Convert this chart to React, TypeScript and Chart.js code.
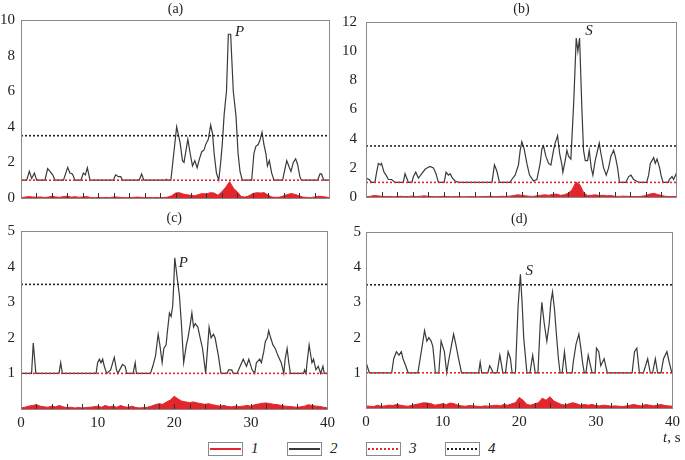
import React, { useEffect, useRef } from 'react';
import { Chart, registerables } from 'chart.js';
Chart.register(...registerables);

const FONT = "'Liberation Serif', 'Times New Roman', serif";
const RED = '#e3262c';
const DARK = '#3a3a3a';

// shared time grid (s) for series 1
const T1 = [0, 0.5, 1, 1.5, 2, 2.5, 3, 3.5, 4, 4.5, 5, 5.5, 6, 6.5, 7, 7.5, 8, 8.5, 9, 9.5, 10, 10.5, 11, 11.5, 12, 12.5, 13, 13.5, 14, 14.5, 15, 15.5, 16, 16.5, 17, 17.5, 18, 18.5, 19, 19.5, 20, 20.5, 21, 21.5, 22, 22.5, 23, 23.5, 24, 24.5, 25, 25.5, 26, 26.5, 27, 27.5, 28, 28.5, 29, 29.5, 30, 30.5, 31, 31.5, 32, 32.5, 33, 33.5, 34, 34.5, 35, 35.5, 36, 36.5, 37, 37.5, 38, 38.5, 39, 39.5, 40];

// Series 1 (red, filled) per panel
const A_S1 = [0.02, 0.05, 0.08, 0.06, 0.04, 0.06, 0.03, 0.05, 0.1, 0.06, 0.04, 0.08, 0.1, 0.05, 0.07, 0.04, 0.06, 0.08, 0.03, 0.02, 0.03, 0.02, 0.03, 0.02, 0.06, 0.05, 0.03, 0.02, 0.02, 0.03, 0.05, 0.04, 0.02, 0.03, 0.02, 0.03, 0.02, 0.03, 0.05, 0.12, 0.28, 0.3, 0.22, 0.18, 0.15, 0.12, 0.2, 0.25, 0.22, 0.3, 0.28, 0.15, 0.35, 0.6, 0.92, 0.55, 0.35, 0.08, 0.05, 0.12, 0.25, 0.3, 0.28, 0.3, 0.15, 0.05, 0.04, 0.05, 0.12, 0.2, 0.25, 0.2, 0.12, 0.05, 0.03, 0.02, 0.06, 0.1, 0.08, 0.05, 0.02];
const B_S1 = [0.02, 0.04, 0.1, 0.08, 0.05, 0.03, 0.04, 0.02, 0.03, 0.05, 0.03, 0.04, 0.06, 0.03, 0.05, 0.08, 0.04, 0.03, 0.02, 0.03, 0.05, 0.03, 0.02, 0.03, 0.02, 0.02, 0.02, 0.03, 0.02, 0.02, 0.03, 0.04, 0.05, 0.03, 0.03, 0.05, 0.04, 0.06, 0.1, 0.15, 0.12, 0.08, 0.05, 0.04, 0.08, 0.12, 0.15, 0.12, 0.18, 0.2, 0.12, 0.15, 0.25, 0.5, 1.02, 0.85, 0.3, 0.1, 0.12, 0.15, 0.1, 0.12, 0.08, 0.1, 0.05, 0.04, 0.06, 0.05, 0.04, 0.03, 0.03, 0.05, 0.1, 0.2, 0.25, 0.18, 0.1, 0.05, 0.03, 0.04, 0.02];
const C_S1 = [0.03, 0.05, 0.08, 0.1, 0.12, 0.08, 0.06, 0.05, 0.08, 0.06, 0.1, 0.06, 0.04, 0.05, 0.03, 0.04, 0.03, 0.04, 0.05, 0.06, 0.08, 0.05, 0.1, 0.06, 0.08, 0.05, 0.1, 0.06, 0.05, 0.08, 0.04, 0.03, 0.04, 0.05, 0.08, 0.12, 0.15, 0.13, 0.2, 0.25, 0.36, 0.28, 0.22, 0.2, 0.18, 0.2, 0.17, 0.15, 0.13, 0.15, 0.12, 0.1, 0.08, 0.1, 0.07, 0.06, 0.08, 0.07, 0.08, 0.1, 0.08, 0.12, 0.14, 0.16, 0.17, 0.15, 0.13, 0.12, 0.1, 0.08, 0.07, 0.06, 0.05, 0.06, 0.08, 0.12, 0.1, 0.08, 0.07, 0.05, 0.03];
const D_S1 = [0.06, 0.05, 0.04, 0.08, 0.05, 0.06, 0.08, 0.07, 0.1, 0.08, 0.06, 0.05, 0.08, 0.1, 0.12, 0.15, 0.14, 0.12, 0.08, 0.1, 0.12, 0.1, 0.14, 0.12, 0.08, 0.06, 0.05, 0.07, 0.06, 0.05, 0.04, 0.06, 0.05, 0.07, 0.08, 0.06, 0.1, 0.08, 0.12, 0.15, 0.3, 0.22, 0.1, 0.08, 0.12, 0.15, 0.28, 0.22, 0.32, 0.2, 0.15, 0.1, 0.08, 0.12, 0.15, 0.12, 0.08, 0.1, 0.08, 0.1, 0.07, 0.06, 0.08, 0.07, 0.05, 0.06, 0.05, 0.04, 0.06, 0.08, 0.1, 0.07, 0.06, 0.1, 0.08, 0.06, 0.08, 0.1, 0.07, 0.06, 0.05];

// Series 2 (black) per panel: time and value
const A_T2 = [0, 0.73, 1.08, 1.38, 1.73, 2.03, 3.1, 3.45, 3.75, 4.1, 4.4, 5.5, 6.04, 6.34, 6.65, 7.0, 7.77, 8.07, 8.33, 8.59, 8.93, 11.95, 12.25, 12.6, 12.9, 13.16, 15.3, 15.62, 15.9, 18.7, 18.85, 19.0, 19.4, 20.15, 20.6, 20.9, 21.1, 21.6, 21.9, 22.2, 22.5, 22.8, 23.1, 23.4, 23.7, 23.9, 24.25, 24.55, 24.8, 25.0, 25.3, 25.6, 25.85, 26.05, 26.3, 26.6, 26.84, 27.14, 27.48, 27.83, 28.1, 28.35, 28.65, 29.86, 30.15, 30.4, 30.7, 30.9, 31.2, 31.45, 31.7, 31.9, 32.15, 32.45, 32.75, 33.87, 34.1, 34.4, 34.75, 34.95, 35.25, 35.55, 35.8, 36.1, 36.3, 38.4, 38.7, 38.9, 39.2, 40];
const A_V2 = [1, 1, 1.5, 1.1, 1.4, 1, 1, 1.65, 1.5, 1.3, 1, 1, 1.72, 1.4, 1.35, 1, 1, 1.4, 1.3, 1.7, 1, 1, 1.3, 1.2, 1.2, 1, 1, 1.35, 1, 1, 1.05, 1, 1, 4.0, 3.1, 2.1, 2.0, 3.3, 2.5, 1.8, 2.1, 1.7, 2.2, 2.6, 2.7, 3.0, 3.3, 4.1, 3.6, 2.5, 1.4, 1.0, 2.0, 3.0, 4.7, 6.0, 9.2, 9.2, 6.0, 4.6, 2.5, 1.5, 1.0, 1.0, 2.5, 2.9, 3.0, 3.2, 3.7, 3.0, 2.5, 1.8, 2.1, 1.4, 1.0, 1.0, 1.5, 2.1, 1.7, 1.5, 2.0, 2.2, 1.9, 1.2, 1.0, 1.0, 1.35, 1.35, 1.0, 1.0];

const B_T2 = [0, 0.4, 0.73, 1.15, 1.3, 1.59, 1.89, 2.0, 2.32, 2.58, 2.88, 3.3, 3.73, 4.8, 5.02, 5.45, 5.9, 6.1, 6.4, 6.74, 7.17, 7.6, 7.9, 8.24, 8.67, 9.0, 9.31, 10.05, 10.3, 10.6, 10.82, 11.12, 11.46, 11.9, 16.2, 16.52, 16.82, 17.17, 18.5, 18.75, 19.18, 19.61, 19.83, 20.04, 20.34, 20.69, 21.03, 21.55, 21.98, 22.4, 22.62, 22.83, 23.13, 23.48, 23.78, 24.12, 24.33, 24.64, 24.9, 25.2, 25.32, 25.62, 25.84, 26.05, 26.35, 26.7, 27.04, 27.25, 27.47, 27.77, 27.98, 28.2, 28.5, 28.71, 28.97, 29.18, 29.48, 29.7, 30.0, 30.21, 30.56, 30.9, 31.2, 31.5, 31.85, 32.06, 32.36, 32.6, 33.4, 33.78, 34.08, 34.42, 35.1, 36.1, 36.35, 36.57, 37.0, 37.2, 37.43, 37.77, 37.94, 38.2, 38.9, 39.0, 39.36, 39.57, 39.9, 40];
const B_V2 = [1.3, 1.2, 1.0, 1.0, 1.5, 2.3, 2.2, 2.3, 1.7, 1.5, 1.2, 1.2, 1.0, 1.0, 1.6, 1.0, 1.0, 1.4, 1.7, 1.3, 1.6, 1.9, 2.0, 2.1, 2.0, 1.6, 1.0, 1.0, 1.7, 1.5, 1.6, 1.3, 1.1, 1.0, 1.0, 2.2, 1.8, 1.0, 1.0, 1.2, 1.5, 2.2, 3.2, 3.8, 3.3, 2.3, 1.5, 1.1, 1.2, 2.3, 3.3, 3.5, 2.8, 2.3, 2.2, 3.2, 3.7, 4.2, 3.0, 2.2, 1.7, 2.5, 3.2, 2.8, 2.6, 6.3, 10.9, 10.0, 10.9, 6.0, 3.2, 2.5, 2.5, 3.2, 2.0, 1.5, 2.5, 3.0, 3.7, 3.0, 2.0, 1.5, 2.0, 2.8, 3.2, 2.8, 2.0, 1.0, 1.0, 1.4, 1.5, 1.2, 1.0, 1.0, 1.5, 2.3, 2.7, 2.3, 2.6, 2.0, 1.5, 1.0, 1.0, 1.2, 1.4, 1.2, 1.6, 1.6];

const C_T2 = [0, 1.38, 1.6, 1.94, 4.96, 5.18, 5.4, 9.8, 10.0, 10.23, 10.44, 10.66, 10.87, 11.18, 11.7, 12.17, 12.47, 12.64, 13.25, 13.59, 13.81, 14.63, 14.9, 15.06, 16.9, 17.2, 17.56, 17.9, 18.12, 18.42, 18.64, 18.94, 19.07, 19.37, 19.59, 19.8, 19.93, 20.07, 20.37, 20.67, 20.93, 21.23, 21.58, 21.79, 22.1, 22.3, 22.52, 22.74, 23.08, 23.38, 23.69, 24.1, 24.55, 24.81, 25.11, 25.33, 25.76, 26.1, 26.9, 27.1, 27.5, 27.7, 28.2, 28.6, 29.0, 29.43, 29.73, 30.16, 30.5, 30.72, 31.15, 31.37, 31.67, 31.89, 32.15, 32.32, 32.58, 32.88, 33.18, 33.53, 33.96, 34.3, 34.47, 34.73, 34.95, 35.16, 36.9, 37.0, 37.2, 37.33, 37.6, 37.97, 38.18, 38.49, 38.79, 39.1, 39.4, 39.57, 40];
const C_V2 = [1, 1, 1.85, 1, 1, 1.3, 1, 1, 1.3, 1.4, 1.3, 1.4, 1.2, 1.0, 1.1, 1.45, 1.1, 1.0, 1.25, 1.2, 1.0, 1.0, 1.3, 1.0, 1.0, 1.2, 1.5, 2.1, 1.8, 1.3, 1.7, 1.8, 2.1, 2.7, 2.6, 2.9, 3.5, 4.25, 3.7, 3.2, 2.4, 1.3, 1.8, 2.0, 2.4, 2.7, 2.3, 2.4, 2.3, 2.0, 1.7, 1.0, 2.3, 2.0, 2.1, 2.0, 1.5, 1.0, 1.0, 1.1, 1.1, 1.0, 1.0, 1.2, 1.4, 1.2, 1.4, 1.1, 1.0, 1.3, 1.4, 1.3, 1.6, 1.9, 2.0, 2.2, 2.0, 1.8, 1.7, 1.5, 1.3, 1.0, 1.4, 1.7, 1.3, 1.0, 1.0, 1.1, 1.0, 1.3, 1.8, 1.3, 1.4, 1.1, 1.2, 1.0, 1.2, 1.0, 1.0];

const D_T2 = [0, 0.43, 3.35, 3.62, 3.97, 4.31, 4.61, 4.83, 5.18, 5.5, 6.77, 6.99, 7.29, 7.64, 7.94, 8.2, 8.5, 8.72, 9.06, 9.5, 9.8, 10.23, 10.53, 10.75, 11.09, 11.43, 11.73, 12.08, 12.47, 14.7, 14.9, 15.1, 15.9, 16.14, 16.4, 16.57, 17.1, 17.47, 17.86, 18.2, 18.55, 18.85, 19.07, 19.5, 19.85, 20.15, 20.37, 20.58, 21.0, 21.4, 21.75, 22.09, 22.44, 22.74, 22.95, 23.26, 23.6, 23.91, 24.12, 24.34, 24.6, 24.81, 25.11, 25.33, 25.6, 25.9, 26.2, 26.9, 27.05, 27.4, 27.78, 28.04, 28.26, 28.48, 28.7, 29.0, 29.3, 29.51, 29.9, 30.08, 30.38, 30.64, 31.07, 31.5, 34.73, 35.04, 35.34, 35.68, 36.2, 36.76, 37.1, 37.4, 37.76, 38.06, 38.5, 38.83, 39.27, 39.57, 39.92, 40];
const D_V2 = [1.3, 1.0, 1.0, 1.4, 1.6, 1.5, 1.6, 1.4, 1.2, 1.0, 1.0, 1.3, 1.7, 2.2, 1.9, 2.0, 1.9, 1.75, 1.0, 1.0, 1.9, 1.6, 1.0, 1.3, 1.7, 2.1, 1.8, 1.4, 1.0, 1.0, 1.3, 1.0, 1.0, 1.2, 1.1, 1.0, 1.0, 1.5, 1.0, 1.0, 1.6, 1.4, 1.0, 1.0, 2.9, 3.8, 3.0, 2.0, 1.0, 1.0, 1.5, 1.0, 1.0, 2.4, 3.0, 2.4, 1.9, 2.4, 3.0, 3.3, 2.8, 2.2, 1.4, 1.0, 1.0, 1.6, 1.0, 1.0, 1.3, 1.8, 2.1, 1.7, 1.3, 1.0, 1.0, 1.5, 1.2, 1.0, 1.0, 1.7, 1.6, 1.2, 1.4, 1.0, 1.0, 1.6, 1.7, 1.0, 1.0, 1.4, 1.0, 1.0, 1.4, 1.0, 1.0, 1.4, 1.6, 1.3, 1.0, 1.0];

// Series 3 and 4: constant levels
const LEVEL3 = 1;
const LEVEL4 = 3.5;
const T_RANGE = [0, 40];
const MINOR_TICKS = [2, 4, 6, 8, 10, 12, 14, 16, 18, 20, 22, 24, 26, 28, 30, 32, 34, 36, 38];
const X_TICKS = [0, 10, 20, 30, 40];

const PANEL_TITLES = ['(a)', '(b)', '(c)', '(d)'];
const PEAK_LABELS = ['P', 'S', 'P', 'S'];
const PEAK_T = [27.7, 28.2, 20.6, 20.8];
const PEAK_V = [9.3, 11.35, 4.1, 3.9];
const Y_MAX = [10, 12, 5, 5];
const Y_STEP = [2, 2, 1, 1];

const LEGEND_LABELS = ['1', '2', '3', '4'];

type Layout = { left: number; top: number; width: number; height: number; yW: number; yPad: number; padTop: number; padRight: number; xH: number; padBottom: number; titleOff: number };

const LAYOUTS: Layout[] = [
  { left: 0, top: 0, width: 340, height: 215, yW: 21, yPad: 6, padTop: 20, padRight: 10, xH: 0, padBottom: 17, titleOff: 11 },
  { left: 340, top: 0, width: 345, height: 215, yW: 26, yPad: 9, padTop: 22, padRight: 8, xH: 0, padBottom: 17, titleOff: 13 },
  { left: 0, top: 205, width: 340, height: 230, yW: 21, yPad: 6, padTop: 26, padRight: 10, xH: 26, padBottom: 0, titleOff: 13 },
  { left: 340, top: 205, width: 345, height: 230, yW: 26, yPad: 5, padTop: 27, padRight: 10, xH: 27, padBottom: 0, titleOff: 13 },
];

const decoPlugin = {
  id: 'deco',
  afterDatasetsDraw(chart: any, _args: any, opts: any) {
    const { ctx, chartArea: a, scales } = chart;
    const xs = scales.x, ys = scales.y;
    ctx.save();
    ctx.strokeStyle = '#333';
    ctx.lineWidth = 1;
    for (const t of MINOR_TICKS) {
      const px = Math.round(xs.getPixelForValue(t)) + 0.5;
      ctx.beginPath();
      ctx.moveTo(px, a.bottom);
      ctx.lineTo(px, a.bottom - 5);
      ctx.stroke();
    }
    ctx.strokeStyle = '#8a8a8a';
    ctx.strokeRect(Math.round(a.left) + 0.5, Math.round(a.top) + 0.5, Math.round(a.right - a.left) - 1, Math.round(a.bottom - a.top));
    ctx.fillStyle = '#222';
    ctx.font = `14px ${FONT}`;
    ctx.textAlign = 'center';
    ctx.textBaseline = 'middle';
    ctx.fillText(opts.title, (a.left + a.right) / 2, a.top - opts.titleOff);
    ctx.font = `italic 15px ${FONT}`;
    ctx.textAlign = 'left';
    ctx.fillText(opts.mark, xs.getPixelForValue(opts.markT), ys.getPixelForValue(opts.markV));
    ctx.restore();
  },
};

function Panel({ idx, s1, t2, v2 }: { idx: number; s1: number[]; t2: number[]; v2: number[] }) {
  const ref = useRef<HTMLCanvasElement>(null);
  const L = LAYOUTS[idx];
  const showX = idx >= 2;
  useEffect(() => {
    if (!ref.current) return;
    const chart = new Chart(ref.current, {
      type: 'line',
      data: {
        datasets: [
          { label: '4', data: T_RANGE.map((t) => ({ x: t, y: LEVEL4 })), borderColor: '#222', borderWidth: 1.6, borderDash: [2, 2], pointRadius: 0, fill: false },
          { label: '3', data: T_RANGE.map((t) => ({ x: t, y: LEVEL3 })), borderColor: RED, borderWidth: 1.6, borderDash: [2, 2], pointRadius: 0, fill: false },
          { label: '2', data: t2.map((t, i) => ({ x: t, y: v2[i] })), borderColor: DARK, borderWidth: 1.2, pointRadius: 0, fill: false, tension: 0 },
          { label: '1', data: T1.map((t, i) => ({ x: t, y: s1[i] })), borderColor: RED, backgroundColor: RED, borderWidth: 1, pointRadius: 0, fill: 'origin', tension: 0 },
        ],
      },
      options: {
        animation: false,
        responsive: false,
        layout: { padding: { left: 0, right: L.padRight, top: L.padTop, bottom: L.padBottom } },
        plugins: {
          legend: { display: false },
          tooltip: { enabled: false },
          deco: { title: PANEL_TITLES[idx], titleOff: L.titleOff, mark: PEAK_LABELS[idx], markT: PEAK_T[idx], markV: PEAK_V[idx] },
        } as any,
        scales: {
          x: {
            type: 'linear',
            min: 0,
            max: 40,
            grid: { display: false, drawTicks: false },
            border: { display: false },
            afterBuildTicks: (s: any) => { s.ticks = X_TICKS.map((v) => ({ value: v })); },
            ticks: { display: showX, color: '#222', padding: 5, font: { family: FONT, size: 15 }, maxRotation: 0 },
            afterFit: (s: any) => { s.height = L.xH; },
          },
          y: {
            min: 0,
            max: Y_MAX[idx],
            grid: { display: false, drawTicks: false },
            border: { display: false },
            ticks: {
              stepSize: Y_STEP[idx],
              color: '#222',
              padding: L.yPad,
              font: { family: FONT, size: 15 },
              callback: (v: any) => (showX && v === 0 ? '' : String(v)),
            },
            afterFit: (s: any) => { s.width = L.yW; },
          },
        },
      },
      plugins: [decoPlugin],
    });
    return () => chart.destroy();
  }, []);
  return (
    <canvas
      ref={ref}
      width={L.width}
      height={L.height}
      style={{ position: 'absolute', left: L.left, top: L.top, width: L.width, height: L.height }}
    />
  );
}

function LegendSample({ color, dotted }: { color: string; dotted: boolean }) {
  return (
    <div style={{ width: 35, height: 14, border: '1px solid #8a8a8a', position: 'relative', boxSizing: 'border-box', background: '#fff' }}>
      <div
        style={{
          position: 'absolute', left: 1, right: 1, top: 5, height: 2,
          background: dotted ? `repeating-linear-gradient(to right, ${color} 0 2px, transparent 2px 4px)` : color,
        }}
      />
    </div>
  );
}

export default function App() {
  const legendColors = [RED, DARK, RED, '#222'];
  const legendDotted = [false, false, true, true];
  return (
    <div style={{ position: 'absolute', left: 0, top: 0, width: 685, height: 460, background: '#fff', fontFamily: FONT, color: '#222' }}>
      <Panel idx={0} s1={A_S1} t2={A_T2} v2={A_V2} />
      <Panel idx={1} s1={B_S1} t2={B_T2} v2={B_V2} />
      <Panel idx={2} s1={C_S1} t2={C_T2} v2={C_V2} />
      <Panel idx={3} s1={D_S1} t2={D_T2} v2={D_V2} />
      {LEGEND_LABELS.map((lab, i) => (
        <div key={lab} style={{ position: 'absolute', left: 208 + i * 79, top: 440, display: 'flex', alignItems: 'center', gap: 8 }}>
          <LegendSample color={legendColors[i]} dotted={legendDotted[i]} />
          <span style={{ fontStyle: 'italic', fontSize: 15 }}>{lab}</span>
        </div>
      ))}
      <div style={{ position: 'absolute', left: 663, top: 429, fontSize: 15, whiteSpace: 'nowrap' }}>
        <i>t</i>, s
      </div>
    </div>
  );
}
